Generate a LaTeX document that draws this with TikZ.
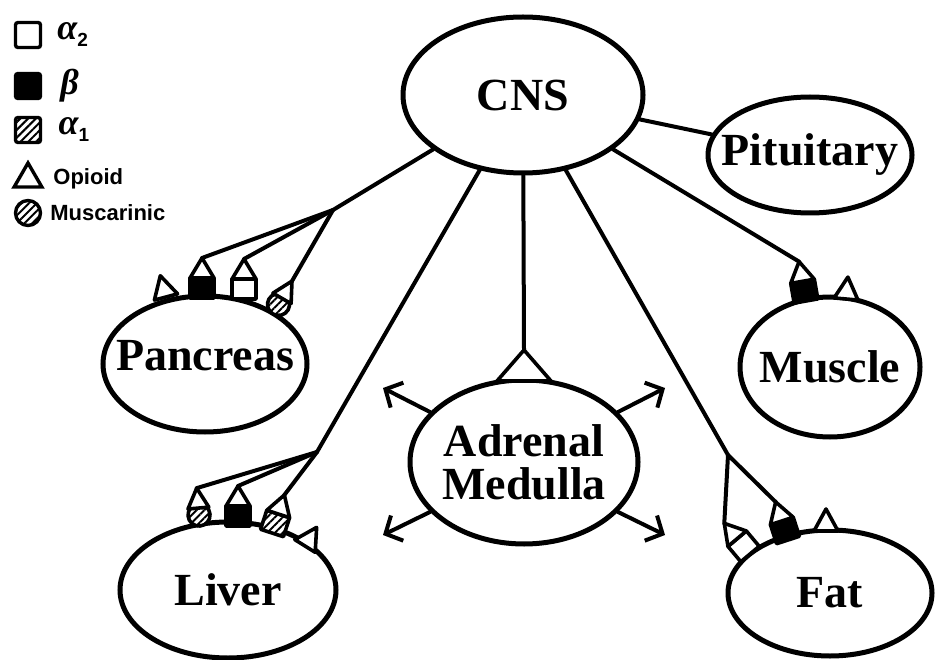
\documentclass[tikz,border=0pt]{standalone}
\usepackage{fontspec}
\setmainfont{Liberation Serif}
\setsansfont{Liberation Sans}
\usepackage{amsmath}
\usepackage{amssymb}
\usepackage{tikz}
\usetikzlibrary{shapes,arrows.meta,positioning,calc,patterns.meta}

\newcommand{\keysub}[1]{\raisebox{-7pt}{\upshape\fontsize{19}{19}\selectfont\sffamily\bfseries #1}}

\begin{document}
\begin{tikzpicture}[
    x=1pt, y=-1pt,
    organ/.style={ellipse, draw=black, line width=5pt, fill=white, inner sep=-20pt,
        font=\fontsize{46}{43}\selectfont\bfseries, align=center},
    nerve/.style={line width=4pt, line cap=round, line join=round},
    spread/.style={nerve, -{Straight Barb[length=13pt, width=28pt]}},
    rcpt/.style={draw=black, line width=3.6pt, line join=round},
    hatch/.style={preaction={fill=white}, pattern={Lines[angle=45, distance=5.5pt, line width=2pt]}},
    keybox/.style={rectangle, draw=black, line width=3.4pt, rounded corners=2.5pt, minimum size=25pt, inner sep=0pt},
    keytri/.style={regular polygon, regular polygon sides=3, draw=black, line width=3.4pt, minimum size=32pt, inner sep=0pt},
    keyball/.style={circle, draw=black, line width=3.4pt, minimum size=25pt, inner sep=0pt, hatch},
    keygreek/.style={font=\fontsize{36}{36}\selectfont\bfseries\itshape, inner sep=0pt},
    keytext/.style={font=\fontsize{22}{23}\selectfont\sffamily\bfseries, inner sep=0pt},
    recbox/.pic={
        \draw[rcpt, #1] (-12,0) rectangle (12,-20);
        \draw[rcpt, fill=white] (-12,-20) -- (0,-40) -- (12,-20) -- cycle;
        \coordinate (-tip) at (0,-40);
    },
    recball/.pic={
        \draw[rcpt, hatch] (0,-11) circle (11);
        \draw[rcpt, fill=white] (-10.5,-18) -- (0,-38) -- (10.5,-18) -- cycle;
        \coordinate (-tip) at (0,-38);
    },
    opioid/.pic={
        \draw[rcpt, fill=white] (-12,0) -- (0,-22) -- (12,0) -- cycle;
    }
]
    \useasboundingbox[fill=white] (0,0) rectangle (939,660);

    % Key
    \node[keybox, fill=white] (kA2) at (28,35) {};
    \node[keybox, fill=black] (kB) at (28,86) {};
    \node[keybox, hatch] (kA1) at (28,130) {};
    \node[keytri] (kOp) at (28,179) {};
    \node[keyball] (kMu) at (28,213) {};
    \node[keygreek, right=15pt of kA2] (tA2) {α\keysub{2}};
    \node[keygreek, right=18pt of kB] (tB) {β};
    \node[keygreek, right=17pt of kA1] (tA1) {α\keysub{1}};
    \node[keytext, right=14pt of kOp] (tOp) {Opioid};
    \node[keytext, right=8pt of kMu] (tMu) {Muscarinic};

    % Organs
    \node[organ, minimum width=240pt, minimum height=156pt] (cns) at (523,95) {CNS};
    \node[organ, minimum width=204pt, minimum height=116pt] (pit) at (810,155) {Pituitary};
    \node[organ, minimum width=204pt, minimum height=136pt, text depth=18pt] (pan) at (205,364) {Pancreas};
    \node[organ, minimum width=180pt, minimum height=140pt] (mus) at (830,367) {Muscle};
    \node[organ, minimum width=228pt, minimum height=164pt] (adr) at (524,462) {Adrenal\\Medulla};
    \node[organ, minimum width=216pt, minimum height=136pt] (liv) at (228,590) {Liver};
    \node[organ, minimum width=204pt, minimum height=126pt] (fat) at (830,593) {Fat};

    % Receptors
    \pic[rotate=15] (pO) at (166,297) {opioid};
    \pic (pB) at (202,298) {recbox={fill=black}};
    \pic (pA) at (244,299) {recbox={fill=white}};
    \pic[rotate=-30] (pM) at (273,314) {recball};

    \pic[rotate=5] (lM) at (200,526) {recball};
    \pic (lB) at (238,526) {recbox={fill=black}};
    \pic[rotate=-18] (lA) at (272,533) {recbox=hatch};
    \pic[rotate=-32] (lO) at (305,546) {opioid};

    \pic[rotate=10] (mB) at (806,301) {recbox={fill=black}};
    \pic[rotate=-5] (mO) at (846,299) {opioid};

    \pic[rotate=18] (fB) at (788,540) {recbox={fill=black}};
    \pic[rotate=40] (fA) at (750,554) {recbox={fill=white}};
    \pic (fO) at (826,531) {opioid};

    \draw[rcpt, fill=white] (497,381) -- (524,350) coordinate (adrTip) -- (551,381) -- cycle;

    % Nerves
    \coordinate (fP) at (333,210);
    \coordinate (fL) at (317,452);
    \coordinate (fF) at (728,455);
    \draw[nerve] (cns) -- (fP) -- (pB-tip);
    \draw[nerve] (fP) -- (pA-tip);
    \draw[nerve] (fP) -- (pM-tip);
    \draw[nerve] (cns) -- (fL) -- (lM-tip);
    \draw[nerve] (fL) -- (lB-tip);
    \draw[nerve] (fL) -- (lA-tip);
    \draw[nerve] (cns) -- (fF) -- (fB-tip);
    \draw[nerve] (fF) -- (fA-tip);
    \draw[nerve] (cns) -- (mB-tip);
    \draw[nerve] (cns) -- (pit);
    \draw[nerve] (cns) -- (adrTip);

    % Adrenal output
    \coordinate (aUL) at (383,388);
    \coordinate (aLL) at (383,535);
    \coordinate (aUR) at (665,388);
    \coordinate (aLR) at (665,535);
    \draw[spread] (adr.152) -- (aUL);
    \draw[spread] (adr.208) -- (aLL);
    \draw[spread] (adr.28) -- (aUR);
    \draw[spread] (adr.-28) -- (aLR);

\end{tikzpicture}
\end{document}
